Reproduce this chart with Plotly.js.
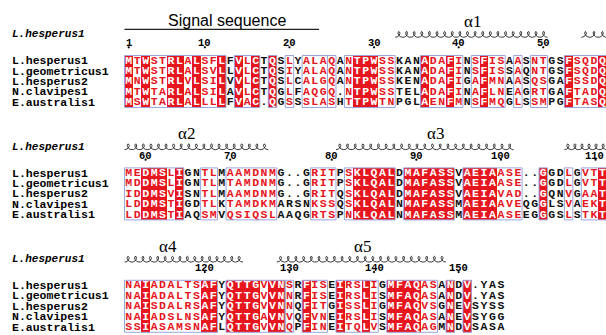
<!DOCTYPE html>
<html><head><meta charset="utf-8">
<script src="https://cdn.plot.ly/plotly-3.0.1.min.js"></script>
<style>html,body{margin:0;padding:0;background:#fff}#c{width:606px;height:335px}</style>
</head><body><div id="c"></div>
<script>
// ---------------- DATA ----------------
const names = ["L.hesperus1","L.geometricus1","L.hesperus2","N.clavipes1","E.australis1"];
const refName = "L.hesperus1";
const block1 = [
 "MTWSTRLALSFLFVLCTQSLYALAQANTPWSSKANADAFINSFISAASNTGSFSQDQ",
 "MTWSTRLALSVLLVLCTQSIYALAQANTPWSSKANADAFINSFISSAQNTGSFSQDQ",
 "MNWSTRLVLSILVVLCTQSLCALGQANTPWSSKENADAFIGAFMNAASQSGAFSSDQ",
 "MTWTARLALSILAVLCTQGLFAQGQ.NTPWSSTELADAFINAFLNEAGRTGAFTADQ",
 "MSWTARLALLLLFVAC.QGSSSLASHTTPWTNPGLAENFMNSFMQGLSSMPGFTASQ"];
const block2 = [
 "MEDMSLIGNTLMAAMDNMG..GRITPSKLQALDMAFASSVAEIAASE..GGDLGVTT",
 "MDDMSLIGNTLMTAMDNMG..GRITPSKLQALDMAFASSVAEIAASE..GGDLGVTT",
 "IDDMSVISNTLMAAMDNMG..GRITQSKLQALDMAFASSVAEIAVAD..GQNVGAAT",
 "LDDMSTIGDTLKTAMDKMARSNKSSQSKLQALNMAFASSMAEIAAVEQGGLSVAEKT",
 "LDDMSTIAQSMVQSIQSLAAQGRTSPNKLQALNMAFASSMAEIAASEEGGGSLSTKT"];
const block3 = [
 "NAIADALTSAFYQTTGVVNSRFISEIRSLIGMFAQASANDV.YAS",
 "NAIADALTSAFYQTTGVVNNRFISEIRSLISMFAQASANDV.YAS",
 "NAISDALRSAFYQTTGVVNNQFITGISSLIGMFAQVSGNEVSYSS",
 "NAIADSLNSAFYQTTGAVNVQFVNEIRSLISMFAQASANEVSYGG",
 "SSIASAMSNAFLQTTGVVNQPFINEITQLVSMFAQAGMNDVSASA"];
// similarity frames (alignment column ranges) per block
const frames1 = [[1,12],[14,16],[18,18],[20,20],[22,24],[25,25],[27,32],[36,40],[42,45],[47,47],[49,50],[53,57]];
const frames2 = [[1,7],[10,11],[13,18],[23,25],[27,32],[34,39],[41,47],[50,50],[53,53],[55,57]];
const frames3 = [[1,11],[13,19],[20,20],[22,24],[26,30],[32,37],[39,39],[41,41]];
// secondary structure (residue numbers of L.hesperus1)
const helixNames = ["α1","α2","α3","α4","α5"];
const helixStart = [33,55,81,106,129];
const helixEnd   = [50,74,101,124,148];
const signalName = "Signal sequence";
const signalStart = 1, signalEnd = 23;

// ---------------- LAYOUT CONSTANTS ----------------
const W = 606, H = 335;
const PITCH = 8.46;          // px per alignment column
const C0PX = 120.24;         // px position of column 0 centre
const BLOCK_TOP = 60.7, BLOCK_STEP = 112.4, ROWH = 10.4;
const RED = '#e6161e', FRAME = '#9ba6dc';
const MONO = '"Liberation Mono", "DejaVu Sans Mono", monospace';
const px2col = p => (p - C0PX) / PITCH;
const rowY = (b, r) => BLOCK_TOP + b * BLOCK_STEP + r * ROWH;
// label placement for helix names (block, px centre)
const helixLabelPos = [[0,472],[1,186],[1,435],[2,168],[2,362]];

const blocks = [block1, block2, block3];
const frames = [frames1, frames2, frames3];

const traces = [], shapes = [], annotations = [];

// residue number -> block/column of the reference sequence
const resPos = {};
let num = 0;
const numLabels = [];
blocks.forEach((bl, b) => {
  for (let c = 0; c < bl[0].length; c++) {
    if (bl[0][c] !== '.') {
      num++; resPos[num] = {b, c: c + 1};
      if (num === 1 || num % 10 === 0) numLabels.push({b, c: c + 1, n: num});
    }
  }
});

blocks.forEach((bl, b) => {
  const ncol = bl[0].length;
  const ys = bl.map((_, r) => rowY(b, r));
  const inFrame = new Array(ncol + 1).fill(false);
  frames[b].forEach(([s, e]) => { for (let c = s; c <= e; c++) inFrame[c] = true; });
  const ident = [];
  for (let c = 0; c < ncol; c++) {
    const ch = bl[0][c];
    ident.push(ch !== '.' && bl.every(s => s[c] === ch));
  }
  const xs = [], z = ys.map(() => []);
  for (let c = 0; c < ncol; c++) {
    xs.push(c + 1);
    ys.forEach((_, r) => z[r].push(ident[c] ? 1 : null));
  }
  traces.push({type: 'heatmap', x: xs, y: ys, z: z, zmin: 0, zmax: 1,
    colorscale: [[0, RED], [1, RED]], showscale: false, hoverinfo: 'skip', xgap: 0, ygap: 0});
  const groups = {white: {x: [], y: [], t: []}, red: {x: [], y: [], t: []}, black: {x: [], y: [], t: []}};
  bl.forEach((seq, r) => {
    for (let c = 0; c < ncol; c++) {
      const ch = seq[c];
      let g = 'black';
      if (ident[c]) g = 'white';
      else if (inFrame[c + 1] && ch !== '.') g = 'red';
      groups[g].x.push(c + 1); groups[g].y.push(ys[r]); groups[g].t.push(ch);
    }
  });
  const col = {white: '#ffffff', red: RED, black: '#111111'};
  Object.keys(groups).forEach(k => {
    traces.push({type: 'scatter', mode: 'text', x: groups[k].x, y: groups[k].y, text: groups[k].t,
      textposition: 'middle center', hoverinfo: 'skip',
      textfont: {family: MONO, size: 11.5, color: col[k], weight: 'bold'}});
  });
  frames[b].forEach(([s, e]) => {
    shapes.push({type: 'rect', xref: 'x', yref: 'y', x0: s - 0.5, x1: e + 0.5,
      y0: ys[0] - ROWH / 2, y1: ys[4] + ROWH / 2, line: {color: FRAME, width: 1}, layer: 'above'});
  });
  names.forEach((nm, r) => {
    annotations.push({xref: 'x', yref: 'y', x: px2col(10.5), y: ys[r], xanchor: 'left', yanchor: 'middle',
      text: nm, showarrow: false, borderpad: 0, font: {family: MONO, size: 11.5, color: '#000', weight: 'bold'}});
  });
  annotations.push({xref: 'x', yref: 'y', x: px2col(10.5), y: ys[0] - 26.3, xanchor: 'left', yanchor: 'middle',
    text: refName, showarrow: false, borderpad: 0,
    font: {family: MONO, size: 11, color: '#000', weight: 'bold', style: 'italic'}});
});

// numbering labels and dots
const dotX = [], dotY = [];
numLabels.forEach(l => {
  const yb = rowY(l.b, 0);
  const txt = String(l.n);
  const halfW = txt.length * 6.3 / 2;
  let x = l.c, xa = 'center';
  const cpx = C0PX + l.c * PITCH;
  let dpx = cpx;
  if (cpx + halfW > W) { x = px2col(W - 1); xa = 'right'; dpx = W - 1 - halfW; }
  annotations.push({xref: 'x', yref: 'y', x: x, y: yb - 17.6, xanchor: xa, yanchor: 'middle', text: txt,
    showarrow: false, borderpad: 0, font: {family: MONO, size: 10.5, color: '#000', weight: 'bold'}});
  dotX.push(px2col(dpx)); dotY.push(yb - 13.4);
});
traces.push({type: 'scatter', mode: 'markers', x: dotX, y: dotY, hoverinfo: 'skip',
  marker: {size: 2.2, color: '#000'}});

// helices as coils
const hx = [], hy = [];
helixNames.forEach((hn, i) => {
  const segs = {};
  for (let r = helixStart[i]; r <= helixEnd[i]; r++) {
    const p = resPos[r];
    if (!segs[p.b]) segs[p.b] = {min: p.c, max: p.c};
    segs[p.b].min = Math.min(segs[p.b].min, p.c);
    segs[p.b].max = Math.max(segs[p.b].max, p.c);
  }
  Object.keys(segs).forEach(bk => {
    const b = +bk;
    const s = segs[b];
    const p0 = C0PX + (s.min - 0.5) * PITCH, p1 = C0PX + (s.max + 0.5) * PITCH;
    const yc = rowY(b, 0) - 26.3;
    const nl = Math.max(1, Math.round((p1 - p0) / 7.6));
    const a = (p1 - p0) / (2 * Math.PI * nl), bb = 2.6, v = 2.9;
    const steps = nl * 18;
    for (let k = 0; k <= steps; k++) {
      const th = Math.PI + 2 * Math.PI * nl * k / steps;
      const xp = p0 + a * (th - Math.PI) - bb * Math.sin(th);
      const yp = yc - v * Math.cos(th);
      hx.push(px2col(xp)); hy.push(yp);
    }
    hx.push(null); hy.push(null);
  });
  const lp = helixLabelPos[i];
  annotations.push({xref: 'x', yref: 'y', x: px2col(lp[1]), y: rowY(lp[0], 0) - 39.5, xanchor: 'center', yanchor: 'middle',
    text: hn, showarrow: false, borderpad: 0, font: {family: '"Liberation Serif", "Times New Roman", serif', size: 17, color: '#000'}});
});
traces.push({type: 'scatter', mode: 'lines', x: hx, y: hy, hoverinfo: 'skip', line: {color: '#222', width: 0.9}});

// signal sequence bar
const sp = resPos[signalStart], ep = resPos[signalEnd];
shapes.push({type: 'line', xref: 'x', yref: 'y', x0: sp.c - 0.5, x1: ep.c + 0.5,
  y0: rowY(sp.b, 0) - 31.4, y1: rowY(sp.b, 0) - 31.4, line: {color: '#222', width: 1.3}});
annotations.push({xref: 'x', yref: 'y', x: px2col(226.5), y: rowY(sp.b, 0) - 40.7, xanchor: 'center', yanchor: 'middle',
  text: signalName, showarrow: false, borderpad: 0, font: {family: '"Liberation Sans", Arial, sans-serif', size: 16, color: '#000'}});

const layout = {
  width: W, height: H, margin: {l: 0, r: 0, t: 0, b: 0},
  paper_bgcolor: '#fff', plot_bgcolor: '#fff', showlegend: false,
  xaxis: {range: [px2col(0), px2col(W)], visible: false, fixedrange: true},
  yaxis: {range: [H, 0], visible: false, fixedrange: true},
  shapes: shapes, annotations: annotations
};
Plotly.newPlot('c', traces, layout, {displayModeBar: false, staticPlot: true});
</script></body></html>
